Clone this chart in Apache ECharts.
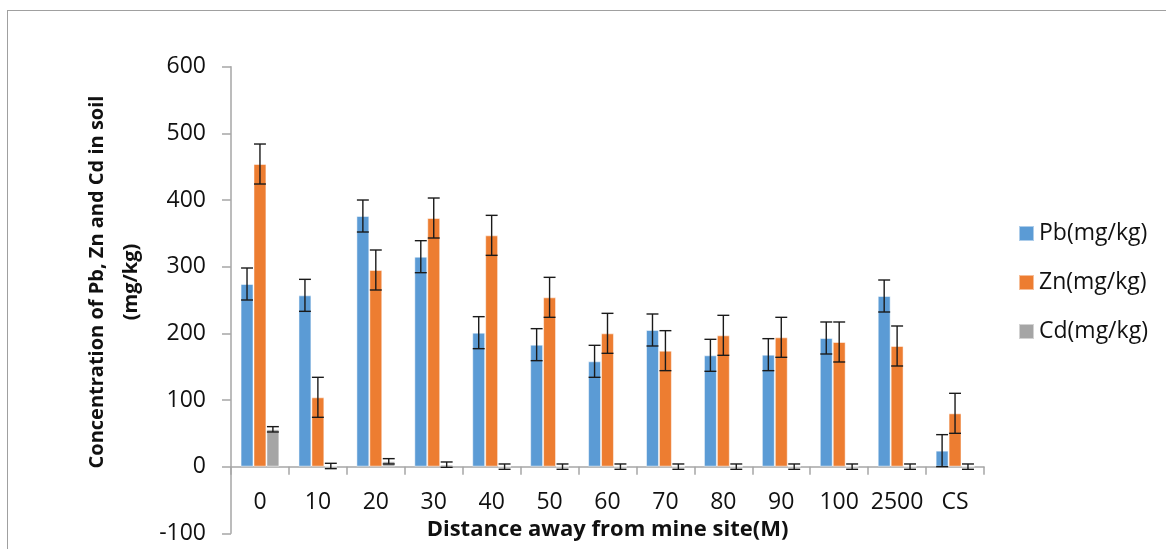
<!DOCTYPE html>
<html>
<head>
<meta charset="utf-8">
<script src="https://cdn.jsdelivr.net/npm/echarts@6/dist/echarts.min.js"></script>
<style>
  html, body { margin: 0; padding: 0; background: #fff; }
  #wrap { position: relative; width: 1166px; height: 549px; overflow: hidden; }
  #frame { position: absolute; left: 7px; top: 10px; width: 1200px; height: 600px;
           border-top: 1px solid #a0a0a0; border-left: 1px solid #a0a0a0; }
  #chart { position: absolute; left: 0; top: 0; width: 1166px; height: 549px; }
</style>
</head>
<body>
<div id="wrap">
  <div id="frame"></div>
  <div id="chart"></div>
</div>
<script>
const categories = ['0', '10', '20', '30', '40', '50', '60', '70', '80', '90', '100', '2500', 'CS']

const pb = [274, 257, 376, 315, 201, 183, 158, 205, 167, 168, 193, 256, 24]
const zn = [454, 104, 295, 373, 347, 254, 200, 174, 197, 194, 187, 181, 80]
const cd = [56, 1, 8, 3, 0, 0, 0, 0, 0, 0, 0, 0, 0]

const pbErr = [24, 24, 24, 24, 24, 24, 24, 24, 24, 24, 24, 24, 24]
const znErr = [30, 30, 30, 30, 30, 30, 30, 30, 30, 30, 30, 30, 30]
const cdErr = [4, 4, 4, 4, 4, 4, 4, 4, 4, 4, 4, 4, 4]

const seriesNames = ['Pb(mg/kg)', 'Zn(mg/kg)', 'Cd(mg/kg)']
const colors = ['#5B9BD5', '#ED7D31', '#A5A5A5']

const FONT = 'Open Sans'
const CAT_GAP = 0.33
const Y_MIN = -100, Y_MAX = 600

function errorSeries(values, errs, idx) {
  return {
    type: 'custom',
    name: 'err' + idx,
    z: 5,
    silent: true,
    data: values.map((v, i) => [i, v, errs[i]]),
    renderItem(params, api) {
      const x = api.value(0), v = api.value(1), e = api.value(2)
      const band = api.size([1, 0])[0]
      const barW = band * (1 - CAT_GAP) / 3
      const dx = (idx - 1) * barW
      const top = api.coord([x, v + e])
      const bot = api.coord([x, v - e])
      const cx = top[0] + dx
      const half = barW / 2 - 0.5
      const style = { stroke: '#1a1a1a', lineWidth: 1.4 }
      return {
        type: 'group',
        children: [
          { type: 'line', shape: { x1: cx, y1: top[1], x2: cx, y2: bot[1] }, style },
          { type: 'line', shape: { x1: cx - half, y1: top[1], x2: cx + half, y2: top[1] }, style },
          { type: 'line', shape: { x1: cx - half, y1: bot[1], x2: cx + half, y2: bot[1] }, style },
        ],
      }
    },
  }
}

const barData = [pb, zn, cd]
const errData = [pbErr, znErr, cdErr]

const gridTop = 66.7, gridBottom = 15.7
const plotH = 549 - gridTop - gridBottom
// lift the category axis from the bottom of the grid up to the zero line
const zeroLift = plotH * (0 - Y_MIN) / (Y_MAX - Y_MIN)

const chart = echarts.init(document.getElementById('chart'))
chart.setOption({
  animation: false,
  textStyle: { fontFamily: FONT },
  grid: { left: 231, right: 182, top: gridTop, bottom: gridBottom, outerBoundsMode: 'none', containLabel: false },
  legend: {
    data: seriesNames,
    orient: 'vertical',
    left: 1013,
    top: 217,
    icon: 'rect',
    itemWidth: 15,
    itemHeight: 15,
    itemGap: 26,
    textStyle: { fontFamily: FONT, fontSize: 23, color: '#111' },
  },
  xAxis: {
    type: 'category',
    data: categories,
    offset: -zeroLift,
    name: 'Distance away from mine site(M)',
    nameLocation: 'middle',
    nameGap: 51,
    nameTextStyle: { fontFamily: FONT, fontSize: 22, fontWeight: 'bold', color: '#111' },
    axisLine: { onZero: false, lineStyle: { color: '#a6a6a6', width: 1.5 } },
    axisTick: { show: true, interval: 0, length: 8, lineStyle: { color: '#a6a6a6', width: 1.5 } },
    axisLabel: { interval: 0, fontFamily: FONT, fontSize: 23, color: '#111', margin: 24 },
  },
  yAxis: {
    type: 'value',
    min: Y_MIN,
    max: Y_MAX,
    interval: 100,
    name: 'Concentration of Pb, Zn and Cd in soil\n(mg/kg)',
    nameLocation: 'middle',
    nameRotate: 90,
    nameGap: 65,
    nameTextStyle: { fontFamily: FONT, fontSize: 20, fontWeight: 'bold', color: '#111',
                     lineHeight: 34, padding: [0, 0, 0, 36] },
    splitLine: { show: false },
    axisLine: { show: true, lineStyle: { color: '#a6a6a6', width: 1.5 } },
    axisTick: { show: true, length: 9, lineStyle: { color: '#a6a6a6', width: 1.5 } },
    axisLabel: { fontFamily: FONT, fontSize: 23, color: '#111', margin: 25 },
  },
  series: [
    ...barData.map((d, i) => ({
      type: 'bar',
      name: seriesNames[i],
      data: d,
      barGap: '0%',
      barCategoryGap: (CAT_GAP * 100) + '%',
      itemStyle: { color: colors[i], borderColor: 'rgba(255,255,255,0.5)', borderWidth: 1 },
    })),
    ...barData.map((d, i) => errorSeries(d, errData[i], i)),
  ],
})
</script>
</body>
</html>
